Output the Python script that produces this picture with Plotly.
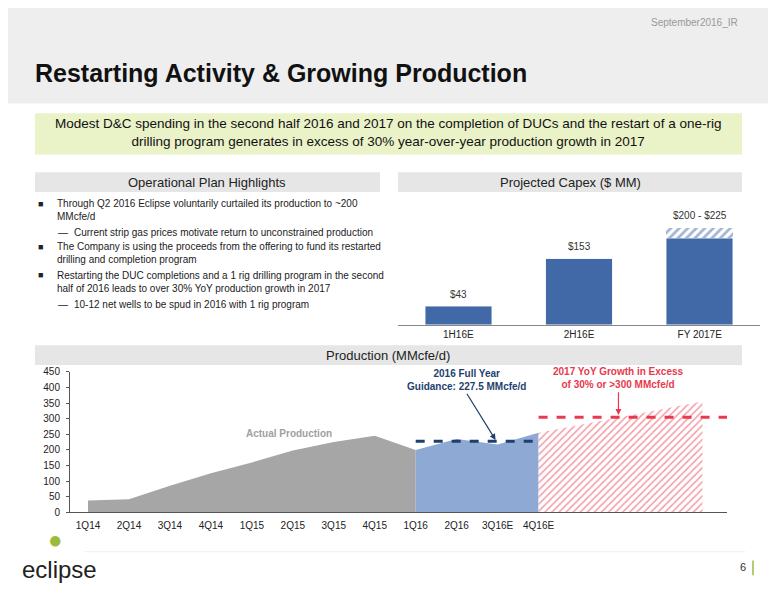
import plotly.graph_objects as go

quarters = ["1Q14","2Q14","3Q14","4Q14","1Q15","2Q15","3Q15","4Q15","1Q16","2Q16","3Q16E","4Q16E"]
actual = [38, 42, 85, 125, 160, 198, 225, 245, 200]
y2016 = [200, 235, 217, 255]
proj2017 = [255, 280, 305, 330, 355]
guidance_2016 = 227.5
growth_2017 = 305

capex_cats = ["1H16E", "2H16E", "FY 2017E"]
capex_base = [43, 153, 200]
capex_range = [0, 0, 25]
capex_labels = ["$43", "$153", "$200 - $225"]

OFF = 8
W, H = 776 - OFF, 600 - OFF
def px(x): return (x - OFF) / W
def py(y): return 1 - (y - OFF) / H

fig = go.Figure()

fig.add_trace(go.Scatter(x=list(range(0, 9)), y=actual, fill="tozeroy", mode="lines",
                         line=dict(color="#a6a6a6", width=0), fillcolor="#a6a6a6",
                         xaxis="x2", yaxis="y2", hoverinfo="skip"))
fig.add_trace(go.Scatter(x=list(range(8, 12)), y=y2016, fill="tozeroy", mode="lines",
                         line=dict(color="#8ea9d3", width=0), fillcolor="#8ea9d3",
                         xaxis="x2", yaxis="y2", hoverinfo="skip"))
fig.add_trace(go.Scatter(x=list(range(11, 16)), y=proj2017, fill="tozeroy", mode="lines",
                         line=dict(color="rgba(0,0,0,0)", width=0),
                         fillpattern=dict(shape="/", fgcolor="#e8394d", bgcolor="white", size=5, solidity=0.3),
                         xaxis="x2", yaxis="y2", hoverinfo="skip"))
fig.add_trace(go.Scatter(x=[8, 11], y=[guidance_2016]*2, mode="lines",
                         line=dict(color="#1f3f6e", width=3, dash="dash"), xaxis="x2", yaxis="y2"))
fig.add_trace(go.Scatter(x=[11, 15.9], y=[growth_2017]*2, mode="lines",
                         line=dict(color="#e8394d", width=3, dash="dash"), xaxis="x2", yaxis="y2"))

fig.add_trace(go.Bar(x=capex_cats, y=capex_base, marker=dict(color="#4169a8"), width=0.55,
                     xaxis="x", yaxis="y"))
fig.add_trace(go.Bar(x=capex_cats, y=capex_range, width=0.55, xaxis="x", yaxis="y",
                     marker=dict(color="white", line=dict(width=0),
                                 pattern=dict(shape="/", fgcolor="#4169a8", bgcolor="white", size=6, solidity=0.45))))
tot = [a + b for a, b in zip(capex_base, capex_range)]
for c, t, l in zip(capex_cats, tot, capex_labels):
    fig.add_annotation(x=c, y=t, text=l, showarrow=False, yshift=12, xref="x", yref="y",
                       font=dict(size=10, color="#333"))

shapes = [
    dict(type="rect", xref="paper", yref="paper", x0=-0.02, x1=1.02, y0=py(100), y1=1.02,
         fillcolor="#eeeeee", line=dict(width=0), layer="below"),
    dict(type="rect", xref="paper", yref="paper", x0=px(35), x1=px(742), y0=py(152), y1=py(110),
         fillcolor="#eaf2c8", line=dict(width=0), layer="below"),
    dict(type="rect", xref="paper", yref="paper", x0=px(35), x1=px(380), y0=py(190), y1=py(170),
         fillcolor="#e6e6e6", line=dict(width=0), layer="below"),
    dict(type="rect", xref="paper", yref="paper", x0=px(398), x1=px(742), y0=py(190), y1=py(170),
         fillcolor="#e6e6e6", line=dict(width=0), layer="below"),
    dict(type="rect", xref="paper", yref="paper", x0=px(35), x1=px(742), y0=py(366), y1=py(346),
         fillcolor="#e6e6e6", line=dict(width=0), layer="below"),
    dict(type="line", xref="paper", yref="paper", x0=px(85), x1=px(745), y0=py(556), y1=py(556),
         line=dict(color="#eeeeee", width=1)),
    dict(type="line", xref="paper", yref="paper", x0=px(753), x1=px(753), y0=py(565), y1=py(580),
         line=dict(color="#9bbb3c", width=1.5)),
]

def ann(x, y, text, size=10, color="#333", bold=False, xanchor="left", yanchor="middle", align="left"):
    if bold: text = "<b>" + text + "</b>"
    fig.add_annotation(x=px(x), y=py(y), xref="paper", yref="paper", text=text, showarrow=False,
                       font=dict(size=size, color=color), xanchor=xanchor, yanchor=yanchor, align=align)

ann(740, 18, "September2016_IR", 10, "#999", xanchor="right")
ann(33, 69, "Restarting Activity & Growing Production", 25, "#111", bold=True)
ann(388, 130, "Modest D&C spending in the second half 2016 and 2017 on the completion of DUCs and the restart of a one-rig<br>drilling program generates in excess of 30% year-over-year production growth in 2017",
    13.5, "#111", xanchor="center", align="center")
ann(207, 180, "Operational Plan Highlights", 13, "#222", xanchor="center")
ann(570, 180, "Projected Capex ($ MM)", 13, "#222", xanchor="center")
ann(388, 356, "Production (MMcfe/d)", 13, "#222", xanchor="center")

bullets = [
    (36, 55, 202, "■", "Through Q2 2016 Eclipse voluntarily curtailed its production to ~200"),
    (None, 55, 215, "", "MMcfe/d"),
    (56, 72, 231, "—", "Current strip gas prices motivate return to unconstrained production"),
    (36, 55, 246, "■", "The Company is using the proceeds from the offering to fund its restarted"),
    (None, 55, 259, "", "drilling and completion program"),
    (36, 55, 275, "■", "Restarting the DUC completions and a 1 rig drilling program in the second"),
    (None, 55, 288, "", "half of 2016 leads to over 30% YoY production growth in 2017"),
    (56, 72, 304, "—", "10-12 net wells to be spud in 2016 with 1 rig program"),
]
for bx, tx, y, b, t in bullets:
    if bx is not None:
        ann(bx, y, b, 9 if b == "■" else 10, "#222")
    ann(tx, y, t, 10, "#222")

fig.add_annotation(x=4.9, y=252, xref="x2", yref="y2", text="<b>Actual Production</b>", showarrow=False,
                   font=dict(size=10, color="#a0a0a0"))
fig.add_annotation(x=9.95, y=232, ax=9.25, ay=380, xref="x2", yref="y2", axref="x2", ayref="y2",
                   text="<b>2016 Full Year<br>Guidance: 227.5 MMcfe/d</b>", showarrow=True,
                   arrowhead=2, arrowsize=1, arrowwidth=1.2, arrowcolor="#1f3f6e", yanchor="bottom",
                   font=dict(size=10, color="#1f3f6e"))
fig.add_annotation(x=12.95, y=312, ax=12.95, ay=385, xref="x2", yref="y2", axref="x2", ayref="y2",
                   text="<b>2017 YoY Growth in Excess<br>of 30% or >300 MMcfe/d</b>", showarrow=True,
                   arrowhead=2, arrowsize=1, arrowwidth=1.2, arrowcolor="#e8394d", yanchor="bottom",
                   font=dict(size=10, color="#e8394d"))

ann(20, 574, "eclipse", 24, "#222", xanchor="left")
ann(55, 544, "●", 24, "#9bbb3c", xanchor="center")
ann(748, 572, "6", 11, "#333", xanchor="right")

fig.update_layout(
    width=W, height=H, margin=dict(l=0, r=0, t=0, b=0), showlegend=False,
    paper_bgcolor="white", plot_bgcolor="white", barmode="stack",
    font=dict(family="Liberation Sans, Arial, sans-serif"),
    shapes=shapes,
    xaxis=dict(domain=[px(398), px(760)], showline=True, linecolor="#888", ticks="",
               tickfont=dict(size=10, color="#222"), showgrid=False, fixedrange=True),
    yaxis=dict(domain=[py(325), py(211)], range=[0, 260], visible=False, showgrid=False),
    xaxis2=dict(domain=[px(70), px(727)], range=[-0.44, 15.6], tickvals=list(range(12)),
                ticktext=quarters, showline=True, linecolor="#555", showgrid=False, zeroline=False,
                ticks="outside", ticklen=4, tickcolor="rgba(0,0,0,0)",
                tickfont=dict(size=10, color="#222"), anchor="y2"),
    yaxis2=dict(domain=[py(516), py(373)], range=[0, 450], dtick=50, showline=True, linecolor="#555",
                ticks="outside", ticklen=3, tickcolor="#555", showgrid=False, zeroline=False,
                ticklabelstandoff=4, tickfont=dict(size=10, color="#222"), anchor="x2"),
)
fig.write_html("out.html")
